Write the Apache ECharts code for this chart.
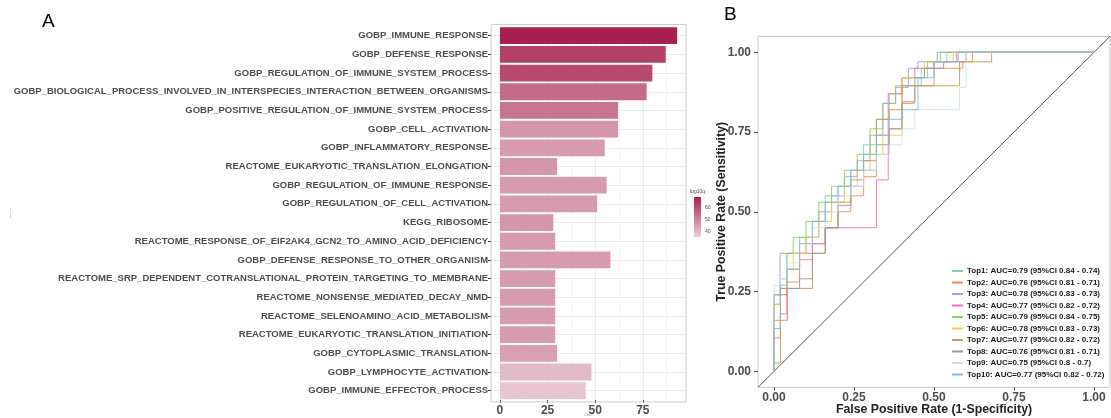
<!DOCTYPE html>
<html>
<head>
<meta charset="utf-8">
<script src="https://cdn.jsdelivr.net/npm/echarts@6/dist/echarts.min.js"></script>
<style>
  html, body { margin: 0; padding: 0; background: #ffffff; }
  #chart { width: 1111px; height: 418px; }
</style>
</head>
<body>
<div id="chart"></div>
<script>
// ---- Panel A: enriched gene sets ----
const terms = [
  'GOBP_IMMUNE_RESPONSE',
  'GOBP_DEFENSE_RESPONSE',
  'GOBP_REGULATION_OF_IMMUNE_SYSTEM_PROCESS',
  'GOBP_BIOLOGICAL_PROCESS_INVOLVED_IN_INTERSPECIES_INTERACTION_BETWEEN_ORGANISMS',
  'GOBP_POSITIVE_REGULATION_OF_IMMUNE_SYSTEM_PROCESS',
  'GOBP_CELL_ACTIVATION',
  'GOBP_INFLAMMATORY_RESPONSE',
  'REACTOME_EUKARYOTIC_TRANSLATION_ELONGATION',
  'GOBP_REGULATION_OF_IMMUNE_RESPONSE',
  'GOBP_REGULATION_OF_CELL_ACTIVATION',
  'KEGG_RIBOSOME',
  'REACTOME_RESPONSE_OF_EIF2AK4_GCN2_TO_AMINO_ACID_DEFICIENCY',
  'GOBP_DEFENSE_RESPONSE_TO_OTHER_ORGANISM',
  'REACTOME_SRP_DEPENDENT_COTRANSLATIONAL_PROTEIN_TARGETING_TO_MEMBRANE',
  'REACTOME_NONSENSE_MEDIATED_DECAY_NMD',
  'REACTOME_SELENOAMINO_ACID_METABOLISM',
  'REACTOME_EUKARYOTIC_TRANSLATION_INITIATION',
  'GOBP_CYTOPLASMIC_TRANSLATION',
  'GOBP_LYMPHOCYTE_ACTIVATION',
  'GOBP_IMMUNE_EFFECTOR_PROCESS'
];
const termCounts = [93, 87, 80, 77, 62, 62, 55, 30, 56, 51, 28, 29, 58, 29, 29, 29, 29, 30, 48, 45];
const termLog10q = [69, 63, 61, 55, 53, 47, 46, 47, 46, 46, 47, 46, 46, 46, 46, 46, 46, 45, 40, 38];
const countTicks = [0, 25, 50, 75];
const countMinorTicks = [12.5, 37.5, 62.5, 87.5];
const qTicks = [40, 50, 60];
const qLow = '#ebd2d8';
const qHigh = '#a81e50';

// ---- Panel B: ROC curves (points: [FPR, TPR]) ----
const rocTicks = [0, 0.25, 0.5, 0.75, 1];
const rocNames = ['Top1', 'Top2', 'Top3', 'Top4', 'Top5', 'Top6', 'Top7', 'Top8', 'Top9', 'Top10'];
const rocAuc = ['0.79', '0.76', '0.78', '0.77', '0.79', '0.78', '0.77', '0.76', '0.75', '0.77'];
const rocCiHigh = ['0.84', '0.81', '0.83', '0.82', '0.84', '0.83', '0.82', '0.81', '0.8', '0.82'];
const rocCiLow = ['0.74', '0.71', '0.73', '0.72', '0.75', '0.73', '0.72', '0.71', '0.7', '0.72'];
const rocColors = ['#7dd3b0', '#f4894a', '#a49be0', '#f56fb0', '#8fcf5a', '#f7c948', '#c49a4b', '#9a9a9a', '#c9e3f2', '#80b8de'];

const top1Roc = [[0,0],[0.02,0.21],[0.04,0.29],[0.08,0.37],[0.12,0.42],[0.16,0.47],[0.2,0.55],[0.24,0.58],[0.28,0.63],[0.32,0.71],[0.36,0.79],[0.40,0.87],[0.46,0.895],[0.50,0.95],[0.54,0.97],[1,1]];
const top2Roc = [[0,0],[0.042,0.16],[0.08,0.28],[0.12,0.35],[0.16,0.40],[0.2,0.45],[0.24,0.50],[0.28,0.55],[0.32,0.61],[0.36,0.68],[0.40,0.76],[0.44,0.845],[0.5,0.895],[0.59,0.95],[0.62,0.97],[1,1]];
const top3Roc = [[0,0],[0.019,0.24],[0.1,0.37],[0.14,0.42],[0.18,0.5],[0.22,0.55],[0.26,0.61],[0.3,0.66],[0.34,0.74],[0.38,0.84],[0.42,0.89],[0.45,0.95],[0.51,0.97],[1,1]];
const top4Roc = [[0,0],[0.02,0.105],[0.04,0.18],[0.08,0.32],[0.12,0.37],[0.16,0.40],[0.32,0.45],[0.357,0.6],[0.40,0.87],[0.44,0.92],[0.5,0.95],[0.575,0.97],[1,1]];
const top5Roc = [[0,0],[0.02,0.21],[0.04,0.26],[0.06,0.37],[0.1,0.42],[0.14,0.47],[0.18,0.53],[0.22,0.58],[0.26,0.63],[0.3,0.68],[0.34,0.76],[0.38,0.84],[0.40,0.895],[0.48,0.92],[0.52,0.97],[1,1]];
const top6Roc = [[0,0],[0.02,0.21],[0.04,0.24],[0.06,0.32],[0.1,0.37],[0.14,0.42],[0.18,0.47],[0.22,0.53],[0.26,0.58],[0.3,0.63],[0.34,0.68],[0.40,0.74],[0.47,0.92],[0.56,0.97],[1,1]];
const top7Roc = [[0,0],[0.02,0.026],[0.12,0.26],[0.16,0.37],[0.2,0.45],[0.24,0.53],[0.28,0.6],[0.32,0.66],[0.36,0.79],[0.40,0.82],[0.58,0.895],[0.68,0.97],[1,1]];
const top8Roc = [[0,0],[0.04,0.24],[0.08,0.26],[0.12,0.29],[0.16,0.37],[0.2,0.45],[0.24,0.52],[0.28,0.58],[0.32,0.63],[0.36,0.71],[0.40,0.76],[0.44,0.84],[0.47,0.92],[0.53,0.95],[0.6,0.97],[1,1]];
const top9Roc = [[0,0],[0.02,0.27],[0.04,0.29],[0.08,0.34],[0.12,0.40],[0.16,0.45],[0.2,0.50],[0.24,0.55],[0.28,0.58],[0.32,0.63],[0.36,0.68],[0.40,0.71],[0.44,0.76],[0.58,0.82],[0.6,0.89],[1,1]];
const top10Roc = [[0,0],[0.02,0.134],[0.04,0.27],[0.08,0.32],[0.12,0.40],[0.16,0.47],[0.2,0.53],[0.24,0.58],[0.28,0.63],[0.32,0.68],[0.36,0.74],[0.40,0.79],[0.45,0.82],[0.5,0.92],[0.57,0.97],[1,1]];
const rocCurves = [top1Roc, top2Roc, top3Roc, top4Roc, top5Roc, top6Roc, top7Roc, top8Roc, top9Roc, top10Roc];
const chanceLine = [[-0.05, -0.05], [1.05, 1.05]];

const FONT = '"Liberation Sans", Arial, Helvetica, sans-serif';
const GREY_TXT = '#4d4d4d';

// Count axis keeps ggplot's 5% padding around [0, max]
const countMax = Math.max(...termCounts);
const countPad = countMax * 0.05;

const chart = echarts.init(document.getElementById('chart'), null, { renderer: 'canvas' });

const rocSeries = rocNames.map((name, i) => ({
  name: name,
  type: 'line',
  xAxisIndex: 3,
  yAxisIndex: 3,
  step: 'start',
  symbol: 'none',
  color: rocColors[i],
  lineStyle: { width: 1, opacity: 0.9 },
  data: rocCurves[i],
  z: 3
}));

const option = {
  backgroundColor: '#ffffff',
  animation: false,
  textStyle: { fontFamily: FONT },
  grid: [
    { left: 491.1, top: 26.36, width: 194.9, height: 373.68, containLabel: false, outerBoundsMode: 'none' },
    { left: 694, top: 197, width: 7, height: 40, show: true, borderWidth: 0, outerBoundsMode: 'none',
      backgroundColor: { type: 'linear', x: 0, y: 0, x2: 0, y2: 1,
        colorStops: [{ offset: 0, color: qHigh }, { offset: 1, color: qLow }] } },
    { left: 758, top: 36.3, width: 352, height: 351, show: true, outerBoundsMode: 'none',
      borderColor: '#c9c9c9', borderWidth: 1, backgroundColor: 'transparent' }
  ],
  xAxis: [
    { type: 'value', gridIndex: 0, min: -countPad, max: countMax + countPad,
      name: 'Count', nameLocation: 'middle', nameGap: 14, nameMoveOverlap: false,
      nameTextStyle: { fontSize: 3, color: '#999999' },
      axisLine: { show: false, onZero: false },
      axisTick: { show: true, customValues: countTicks, length: 3, lineStyle: { color: '#333333', width: 1 } },
      axisLabel: { customValues: countTicks, color: GREY_TXT, fontWeight: 'bold', fontSize: 12, margin: 5, fontFamily: FONT },
      splitLine: { show: true, lineStyle: { color: '#ebebeb', width: 1 } } },
    { type: 'value', gridIndex: 0, position: 'bottom', min: -countPad, max: countMax + countPad,
      axisLine: { show: false, onZero: false }, axisLabel: { show: false },
      axisTick: { show: false, customValues: countMinorTicks },
      splitLine: { show: true, lineStyle: { color: '#f4f4f4', width: 1 } } },
    { type: 'category', gridIndex: 1, data: [''], show: false },
    { type: 'value', gridIndex: 2, min: -0.05, max: 1.05,
      name: 'False Positive Rate (1-Specificity)', nameLocation: 'middle', nameGap: 16, nameMoveOverlap: false,
      nameTextStyle: { fontSize: 12.3, fontWeight: 'bold', color: '#222222', fontFamily: FONT },
      axisLine: { show: false, onZero: false },
      axisTick: { show: true, customValues: rocTicks, length: 3, lineStyle: { color: '#555555' } },
      axisLabel: { customValues: rocTicks, formatter: v => v.toFixed(2), color: GREY_TXT,
        fontWeight: 'bold', fontSize: 12, margin: 4, fontFamily: FONT },
      splitLine: { show: false } }
  ],
  yAxis: [
    { type: 'category', gridIndex: 0, inverse: true, data: terms,
      name: 'Description', nameLocation: 'middle', nameRotate: 90, nameGap: 480, nameMoveOverlap: false,
      nameTextStyle: { fontSize: 2, color: '#888888' },
      axisLine: { show: false, onZero: false },
      axisTick: { show: true, alignWithLabel: true, length: 3, lineStyle: { color: '#333333' } },
      axisLabel: { color: GREY_TXT, fontWeight: 'bold', fontSize: 9.5, margin: 3, fontFamily: FONT },
      splitLine: { show: false } },
    { type: 'value', gridIndex: 0, inverse: true, min: 0.5, max: terms.length + 0.5,
      axisLine: { show: false, onZero: false }, axisLabel: { show: false },
      axisTick: { show: false, customValues: terms.map((t, i) => i + 1) },
      splitLine: { show: true, lineStyle: { color: '#ebebeb', width: 1 } } },
    { type: 'value', gridIndex: 1, position: 'right', min: 35.8, max: 69.2,
      name: 'log10q', nameLocation: 'end', nameGap: 3, nameMoveOverlap: false,
      nameTextStyle: { fontSize: 5, color: GREY_TXT, align: 'right', padding: [0, -4, 0, 0] },
      axisLine: { show: false, onZero: false },
      axisTick: { show: false, customValues: qTicks },
      axisLabel: { customValues: qTicks, fontSize: 5, color: GREY_TXT, margin: 4 },
      splitLine: { show: false } },
    { type: 'value', gridIndex: 2, min: -0.05, max: 1.05,
      name: 'True Positive Rate (Sensitivity)', nameLocation: 'middle', nameGap: 30, nameRotate: 90, nameMoveOverlap: false,
      nameTextStyle: { fontSize: 12.3, fontWeight: 'bold', color: '#222222', fontFamily: FONT },
      axisLine: { show: false, onZero: false },
      axisTick: { show: true, customValues: rocTicks, length: 4, lineStyle: { color: '#555555' } },
      axisLabel: { customValues: rocTicks, formatter: v => v.toFixed(2), color: GREY_TXT,
        fontWeight: 'bold', fontSize: 12, margin: 7, fontFamily: FONT },
      splitLine: { show: false } }
  ],
  visualMap: [
    { show: false, type: 'continuous', seriesIndex: 0, dimension: 2,
      min: 35.8, max: 69.2, inRange: { color: [qLow, qHigh] } }
  ],
  legend: {
    data: rocNames,
    orient: 'vertical',
    left: 952,
    top: 266,
    itemWidth: 11,
    itemHeight: 2,
    itemGap: 1.5,
    icon: 'rect',
    padding: 0,
    formatter: name => {
      const i = rocNames.indexOf(name);
      return name + ': AUC=' + rocAuc[i] + ' (95%CI ' + rocCiHigh[i] + ' - ' + rocCiLow[i] + ')';
    },
    textStyle: { fontSize: 8, fontWeight: 'bold', color: '#1a1a1a', lineHeight: 10, padding: [0, 0, 0, -1], fontFamily: FONT }
  },
  series: [
    { type: 'bar', xAxisIndex: 0, yAxisIndex: 0, barWidth: '90%',
      encode: { x: 0, y: 1 },
      data: termCounts.map((v, i) => [v, terms[i], termLog10q[i]]),
      z: 2 },
    ...rocSeries,
    { name: 'chance', type: 'line', xAxisIndex: 3, yAxisIndex: 3, symbol: 'none',
      color: '#555555', lineStyle: { width: 1 }, data: chanceLine, z: 2 }
  ],
  graphic: [
    { type: 'rect', z: 10, silent: true,
      shape: { x: 491.1, y: 24.5, width: 194.9, height: 377.4 },
      style: { fill: 'none', stroke: '#cccccc', lineWidth: 1 } },
    { type: 'text', left: 42, top: 12, style: { text: 'A', fill: '#000000', font: '19px ' + FONT } },
    { type: 'text', left: 724, top: 5, style: { text: 'B', fill: '#000000', font: '19px ' + FONT } }
  ]
};

chart.setOption(option);
</script>
</body>
</html>
